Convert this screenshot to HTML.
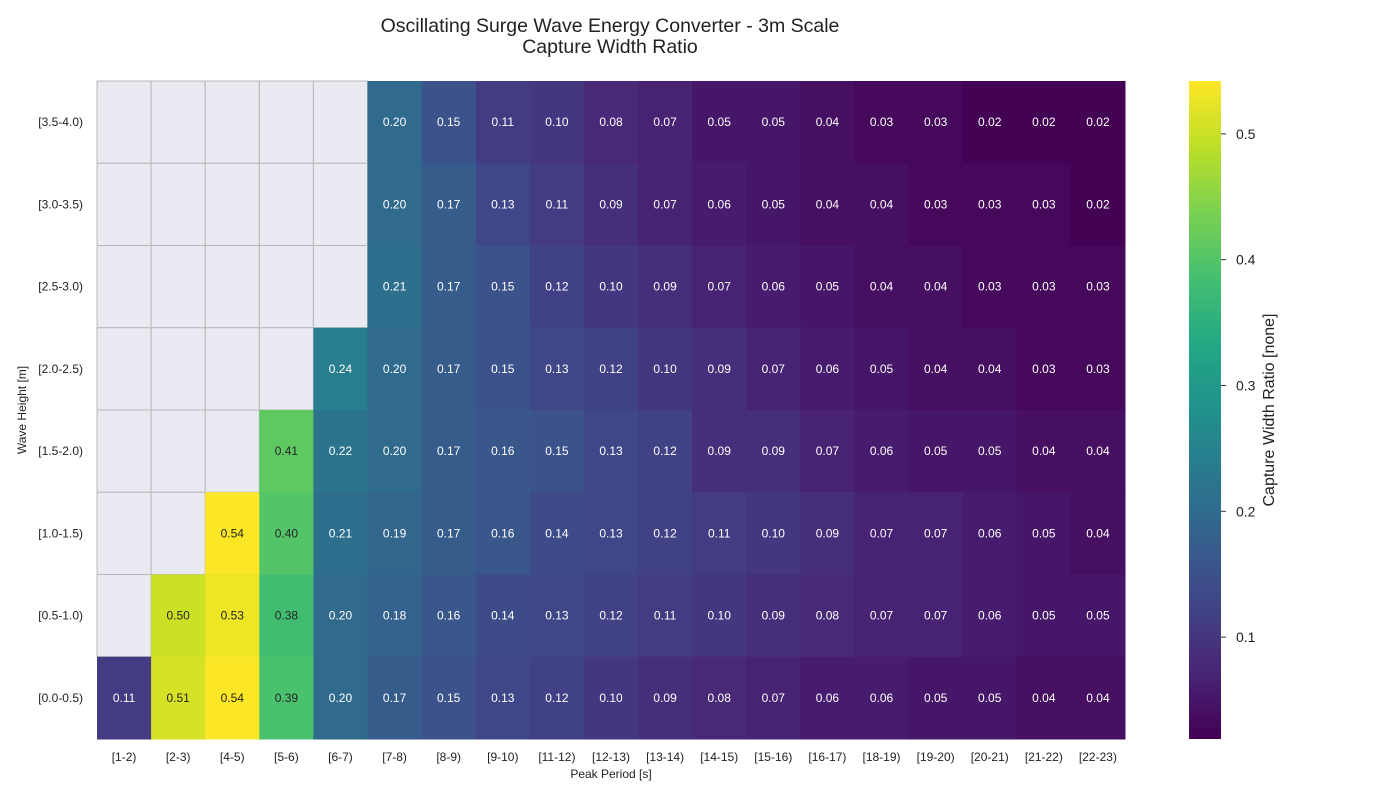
<!DOCTYPE html>
<html><head><meta charset="utf-8"><style>
body{margin:0;background:#fff;font-family:"Liberation Sans",Arial,sans-serif;}
svg text{font-family:"Liberation Sans",Arial,sans-serif;}
</style></head><body>
<svg id="chart" width="1400" height="800" xmlns="http://www.w3.org/2000/svg">
<defs>
<linearGradient id="vir" x1="0" y1="1" x2="0" y2="0">
<stop offset="0" stop-color="#440154"/><stop offset="0.1" stop-color="#482475"/><stop offset="0.2" stop-color="#414487"/><stop offset="0.3" stop-color="#355f8d"/><stop offset="0.4" stop-color="#2a788e"/><stop offset="0.5" stop-color="#21918c"/><stop offset="0.6" stop-color="#22a884"/><stop offset="0.7" stop-color="#44bf70"/><stop offset="0.8" stop-color="#7ad151"/><stop offset="0.9" stop-color="#bddf26"/><stop offset="1" stop-color="#fde725"/>
</linearGradient>
</defs>
<text x="610" y="32" text-anchor="middle" font-size="19.5" fill="#222">Oscillating Surge Wave Energy Converter - 3m Scale</text>
<text x="610" y="53" text-anchor="middle" font-size="19.5" fill="#222">Capture Width Ratio</text>
<g id="cells"></g>
<g id="xt"></g><g id="yt"></g>
<text x="611" y="778" text-anchor="middle" font-size="12" fill="#222">Peak Period [s]</text>
<text transform="translate(26,410) rotate(-90)" text-anchor="middle" font-size="12" fill="#222">Wave Height [m]</text>
<rect x="1189" y="81" width="32" height="658" fill="url(#vir)"/>
<g id="cb"></g>
<text transform="translate(1274,410) rotate(-90)" text-anchor="middle" font-size="16" fill="#222">Capture Width Ratio [none]</text>
</svg>
<script>
const periods=["[1-2)","[2-3)","[4-5)","[5-6)","[6-7)","[7-8)","[8-9)","[9-10)","[11-12)","[12-13)","[13-14)","[14-15)","[15-16)","[16-17)","[18-19)","[19-20)","[20-21)","[21-22)","[22-23)"];
const heights=["[3.5-4.0)","[3.0-3.5)","[2.5-3.0)","[2.0-2.5)","[1.5-2.0)","[1.0-1.5)","[0.5-1.0)","[0.0-0.5)"];
const N=null;
const row0=[N,N,N,N,N,.20,.15,.11,.10,.08,.07,.05,.05,.04,.03,.03,.02,.02,.02];
const row1=[N,N,N,N,N,.20,.17,.13,.11,.09,.07,.06,.05,.04,.04,.03,.03,.03,.02];
const row2=[N,N,N,N,N,.21,.17,.15,.12,.10,.09,.07,.06,.05,.04,.04,.03,.03,.03];
const row3=[N,N,N,N,.24,.20,.17,.15,.13,.12,.10,.09,.07,.06,.05,.04,.04,.03,.03];
const row4=[N,N,N,.41,.22,.20,.17,.16,.15,.13,.12,.09,.09,.07,.06,.05,.05,.04,.04];
const row5=[N,N,.54,.40,.21,.19,.17,.16,.14,.13,.12,.11,.10,.09,.07,.07,.06,.05,.04];
const row6=[N,.50,.53,.38,.20,.18,.16,.14,.13,.12,.11,.10,.09,.08,.07,.07,.06,.05,.05];
const row7=[.11,.51,.54,.39,.20,.17,.15,.13,.12,.10,.09,.08,.07,.06,.06,.05,.05,.04,.04];
const rows=[row0,row1,row2,row3,row4,row5,row6,row7];
const cbTicks=[0.1,0.2,0.3,0.4,0.5];
const VMIN=0.019,VMAX=0.542;
const X0=97,X1=1125,Y0=81,Y1=739;
const cw=(X1-X0)/periods.length,ch=(Y1-Y0)/heights.length;
const xs=i=>X0+i*cw, ys=j=>Y0+j*ch;
const stops=["#440154","#482475","#414487","#355f8d","#2a788e","#21918c","#22a884","#44bf70","#7ad151","#bddf26","#fde725"];
function hx(h){return [1,3,5].map(k=>parseInt(h.substr(k,2),16));}
function vir(v){let t=Math.max(0,Math.min(1,(v-VMIN)/(VMAX-VMIN)))*10;let i=Math.min(9,Math.floor(t)),f=t-i;let a=hx(stops[i]),b=hx(stops[i+1]);return `rgb(${a.map((c,k)=>Math.round(c+(b[k]-c)*f)).join(',')})`;}
const NS="http://www.w3.org/2000/svg";
function mk(tag,attrs,parent){const e=document.createElementNS(NS,tag);for(const k in attrs)e.setAttribute(k,attrs[k]);parent.appendChild(e);return e;}
const cells=document.getElementById('cells');
rows.forEach((r,j)=>r.forEach((v,i)=>{
  if(v===null){
    const e=mk('rect',{x:xs(i),y:ys(j),width:cw,height:ch,fill:'#eaeaf2',stroke:'#b8b8b8','stroke-width':1},cells);
    
    
  }else{
    const e=mk('rect',{x:xs(i),y:ys(j),width:cw+0.5,height:ch+0.5,fill:vir(v)},cells);
    
    
  }
}));
rows.forEach((r,j)=>r.forEach((v,i)=>{
  if(v===null)return;
  const t=mk('text',{x:xs(i)+cw/2,y:ys(j)+ch/2+4,'text-anchor':'middle','font-size':12,fill:v>0.3?'#262626':'#ffffff'},cells);
  t.textContent=v.toFixed(2);
  
  
}));
const xt=document.getElementById('xt');
periods.forEach((p,i)=>{const t=mk('text',{x:xs(i)+cw/2,y:761,'text-anchor':'middle','font-size':12,fill:'#222'},xt);t.textContent=p;

});
const yt=document.getElementById('yt');
heights.forEach((h,j)=>{const t=mk('text',{x:83,y:ys(j)+ch/2+4,'text-anchor':'end','font-size':12,fill:'#222'},yt);t.textContent=h;

});
const cb=document.getElementById('cb');
cbTicks.forEach(v=>{const y=Y1-(v-VMIN)/(VMAX-VMIN)*(Y1-Y0);
 const l=mk('line',{x1:1221,x2:1226,y1:y,y2:y,stroke:'#333'},cb);
 
 
 const t=mk('text',{x:1236,y:y+5,'font-size':14,fill:'#222'},cb);t.textContent=v.toFixed(1);
 
 });
</script>
</body></html>
